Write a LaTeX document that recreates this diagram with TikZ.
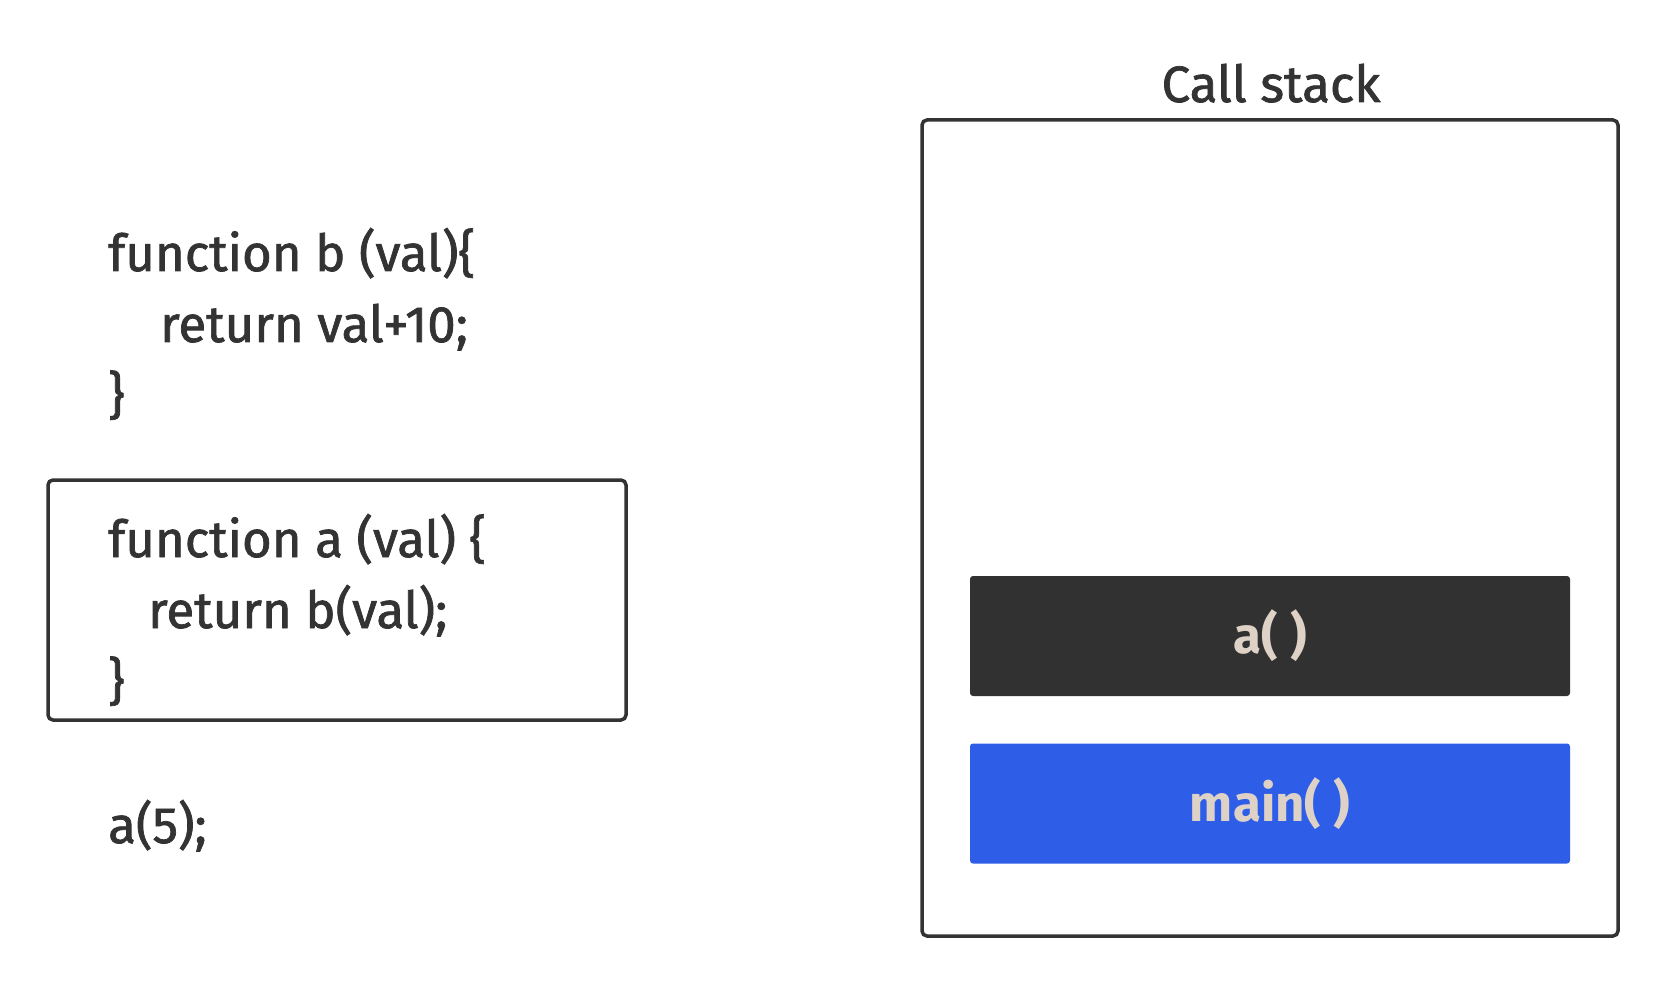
\documentclass[tikz,border=0pt]{standalone}
\usepackage{fontspec}
\setmainfont{Fira Sans}
\newfontfamily\codefont{Fira Sans}[FakeBold=1.4]
\definecolor{ink}{HTML}{333333}
\definecolor{darkblock}{HTML}{313131}
\definecolor{blueblock}{HTML}{2E5DE8}
\definecolor{labelc}{HTML}{DED2C6}
\begin{document}
\begin{tikzpicture}[x=1pt,y=-1pt,
  code/.style={anchor=base west, inner sep=0pt, text=ink, font=\codefont\fontsize{51}{60}\selectfont},
  title/.style={anchor=base, inner sep=0pt, text=ink, font=\codefont\fontsize{51}{60}\selectfont},
  frame/.style={draw=ink, line width=3.5pt, rounded corners=5pt, inner sep=0pt},
  block/.style={rounded corners=3pt, minimum width=600pt, minimum height=120pt, inner sep=0pt, text=labelc, font=\bfseries\fontsize{51}{60}\selectfont}]
\useasboundingbox[fill=white] (0,0) rectangle (1666,984);
% code box around function a
\node[frame, minimum width=578pt, minimum height=240pt] (abox) at (337,600) {};
% call stack frame
\node[frame, minimum width=696pt, minimum height=816pt] (stack) at (1270,528) {};
\node[title] (stacktitle) at (1271,102) {Call stack};
% code lines
\node[code] (b1) at (108,271) {function b (val)\{};
\node[code] (b2) at (160,342) {return val+10;};
\node[code] (b3) at (108,413) {\}};
\node[code] (a1) at (108,557) {function a (val) \{};
\node[code] (a2) at (148,628) {return b(val);};
\node[code] (a3) at (108,699) {\}};
\node[code] (call) at (108,843) {a(5);};
% stack frames
\node[block, fill=darkblock] (fa) at (1270,636) {a( )};
\node[block, fill=blueblock] (fmain) at (1270,803.5) {main( )};
\end{tikzpicture}
\end{document}
